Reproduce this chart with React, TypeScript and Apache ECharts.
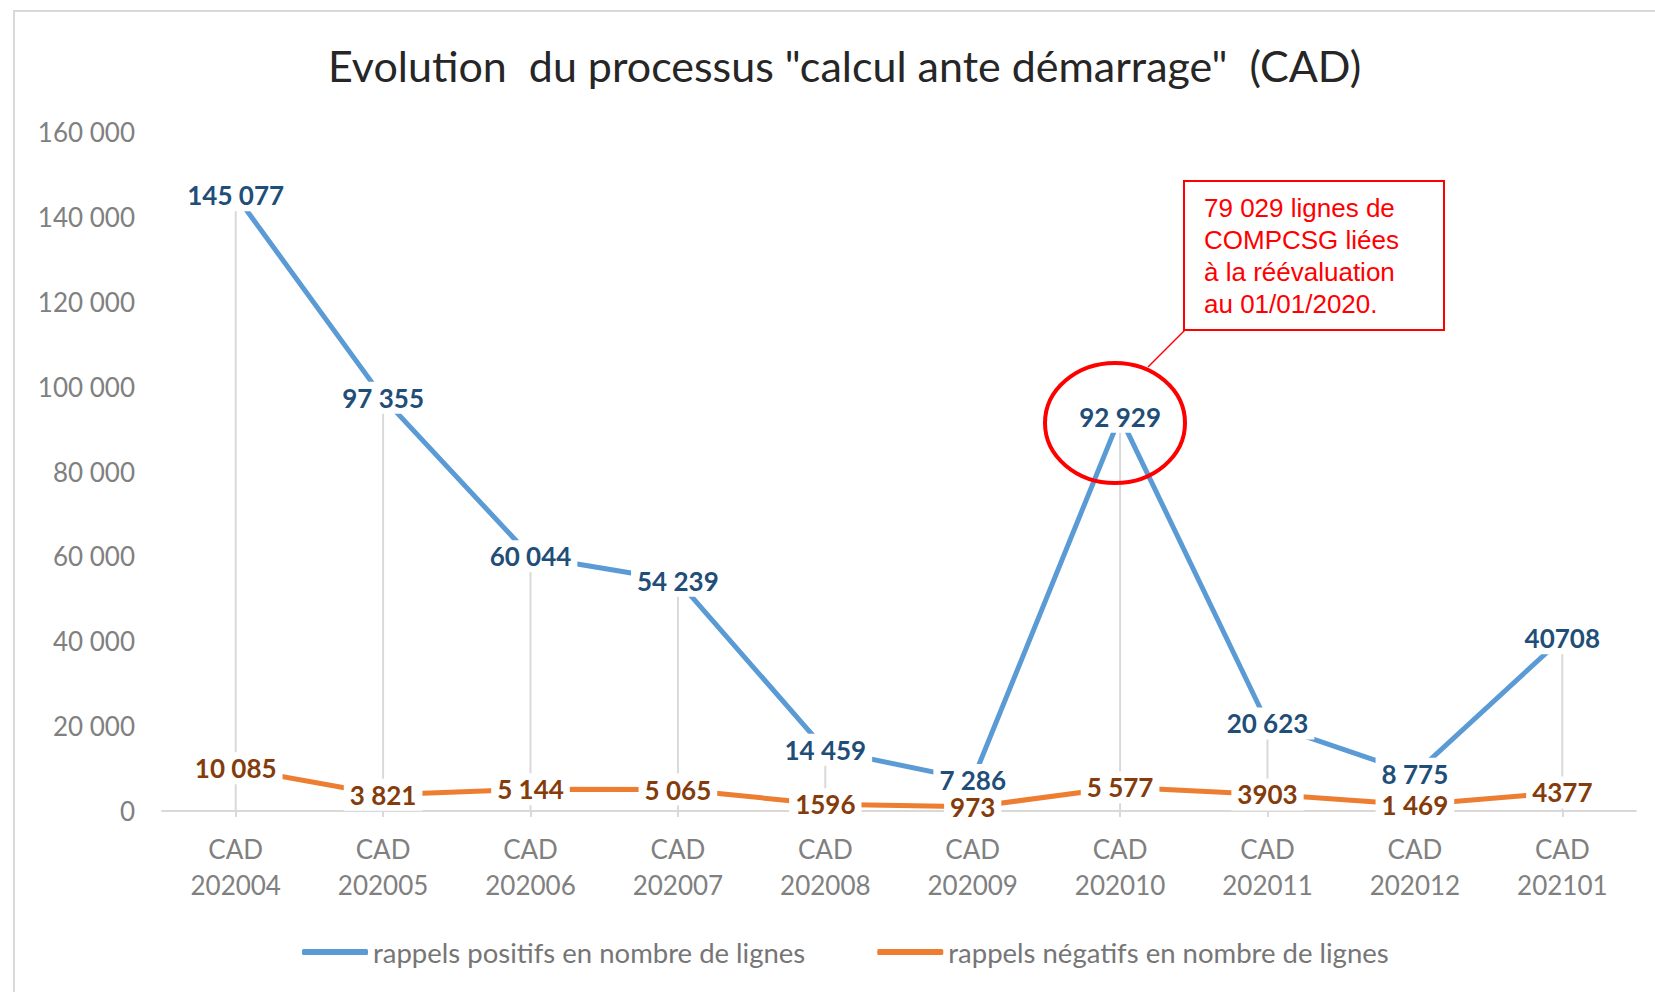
import { useEffect, useRef } from "react";
import * as echarts from "echarts";

const categories = [
  "CAD\n202004", "CAD\n202005", "CAD\n202006", "CAD\n202007", "CAD\n202008",
  "CAD\n202009", "CAD\n202010", "CAD\n202011", "CAD\n202012", "CAD\n202101",
];
const positiveValues = [145077, 97355, 60044, 54239, 14459, 7286, 92929, 20623, 8775, 40708];
const negativeValues = [10085, 3821, 5144, 5065, 1596, 973, 5577, 3903, 1469, 4377];
const positiveLabels = ["145 077", "97 355", "60 044", "54 239", "14 459", "7 286", "92 929", "20 623", "8 775", "40708"];
const negativeLabels = ["10 085", "3 821", "5 144", "5 065", "1596", "973", "5 577", "3903", "1 469", "4377"];
const seriesNames = ["rappels positifs en nombre de lignes", "rappels négatifs en nombre de lignes"];
const titleText = 'Evolution  du processus "calcul ante démarrage"  (CAD)';
const noteLines = ["79 029 lignes de", "COMPCSG liées", "à la réévaluation", "au 01/01/2020."];
const yMin = 0;
const yMax = 160000;
const yInterval = 20000;

const fmt = (v: number) => String(v).replace(/\B(?=(\d{3})+(?!\d))/g, " ");

export default function App() {
  const ref = useRef<HTMLDivElement>(null);
  useEffect(() => {
    if (!ref.current) return;
    const chart = echarts.init(ref.current, null, { renderer: "svg" });
    const font = "Lato";
    chart.setOption({
      animation: false,
      backgroundColor: "#ffffff",
      title: {
        text: titleText,
        left: 323,
        top: 39,
        textStyle: { fontFamily: font, fontSize: 43, fontWeight: "normal", color: "#262626" },
      },
      grid: { left: 162, right: 19, top: 132, bottom: 181, containLabel: false },
      legend: {
        data: seriesNames,
        left: 297,
        top: 933,
        itemWidth: 66,
        itemHeight: 6,
        itemGap: 72,
        icon: "roundRect",
        textStyle: { fontFamily: font, fontSize: 27.5, color: "#767676" },
      },
      xAxis: {
        type: "category",
        data: categories,
        boundaryGap: true,
        axisLine: { lineStyle: { color: "#d9d9d9", width: 2 } },
        axisTick: { show: true, alignWithLabel: true, length: 6, lineStyle: { color: "#d9d9d9", width: 2 } },
        axisLabel: { fontFamily: font, fontSize: 26, color: "#808080", lineHeight: 36, margin: 20, interval: 0 },
        splitLine: { show: false },
      },
      yAxis: {
        type: "value",
        min: yMin,
        max: yMax,
        interval: yInterval,
        axisLine: { show: false },
        axisTick: { show: false },
        splitLine: { show: false },
        axisLabel: { fontFamily: font, fontSize: 26, color: "#808080", margin: 27, formatter: (v: number) => fmt(v) },
      },
      series: [
        {
          type: "bar",
          data: positiveValues,
          barWidth: 2,
          silent: true,
          z: 1,
          itemStyle: { color: "#d9d9d9" },
        },
        {
          name: seriesNames[0],
          type: "line",
          data: positiveValues,
          z: 2,
          symbol: "circle",
          symbolSize: 2,
          itemStyle: { color: "#5b9bd5" },
          lineStyle: { color: "#5b9bd5", width: 5 },
          label: {
            show: true,
            position: "inside",
            formatter: (p: any) => positiveLabels[p.dataIndex],
            fontFamily: font,
            fontSize: 26,
            fontWeight: "bold",
            color: "#1f4e79",
            backgroundColor: "#ffffff",
            padding: [3, 6],
          },
        },
        {
          name: seriesNames[1],
          type: "line",
          data: negativeValues,
          z: 3,
          symbol: "circle",
          symbolSize: 2,
          itemStyle: { color: "#ed7d31" },
          lineStyle: { color: "#ed7d31", width: 5 },
          label: {
            show: true,
            position: "inside",
            formatter: (p: any) => negativeLabels[p.dataIndex],
            fontFamily: font,
            fontSize: 26,
            fontWeight: "bold",
            color: "#843c0c",
            backgroundColor: "#ffffff",
            padding: [3, 6],
          },
        },
      ],
      graphic: [
        {
          type: "rect",
          z: 0,
          silent: true,
          shape: { x: 14, y: 11, width: 1700, height: 1100 },
          style: { fill: "none", stroke: "#d9d9d9", lineWidth: 2 },
        },
        {
          type: "line",
          z: 100,
          shape: { x1: 1148, y1: 367, x2: 1185, y2: 330 },
          style: { stroke: "#ff0000", lineWidth: 1.5 },
        },
        {
          type: "ellipse",
          z: 100,
          shape: { cx: 1115, cy: 423, rx: 70, ry: 60 },
          style: { fill: "none", stroke: "#ff0000", lineWidth: 4 },
        },
        {
          type: "rect",
          z: 100,
          shape: { x: 1184, y: 181, width: 260, height: 149 },
          style: { fill: "#ffffff", stroke: "#ff0000", lineWidth: 2 },
        },
        {
          type: "text",
          z: 101,
          x: 1204,
          y: 192,
          style: {
            text: noteLines.join("\n"),
            font: '26px "Liberation Sans"',
            fill: "#ff0000",
            lineHeight: 32,
          },
        },
      ],
    });
    return () => chart.dispose();
  }, []);
  return <div ref={ref} style={{ position: "fixed", left: 0, top: 0, width: 1655, height: 992 }} />;
}
